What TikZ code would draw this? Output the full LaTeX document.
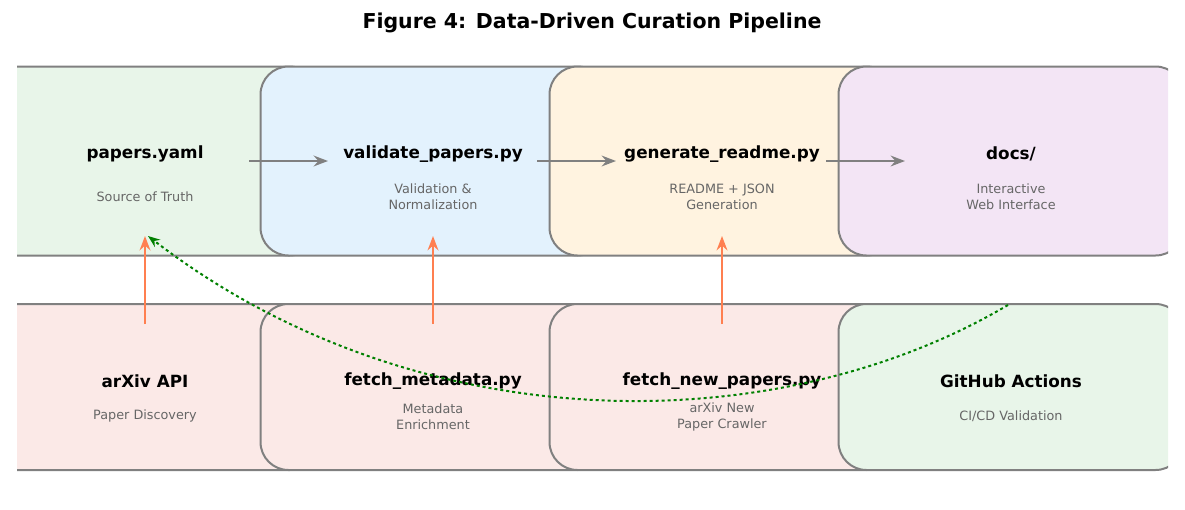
\documentclass[tikz,border=0pt]{standalone}
\usepackage{fontspec}
\setmainfont{DejaVu Sans}
\usetikzlibrary{arrows.meta}
\definecolor{cgreen}{HTML}{E8F5E9}
\definecolor{cblue}{HTML}{E3F2FD}
\definecolor{corange}{HTML}{FFF3E0}
\definecolor{cpurple}{HTML}{F3E5F5}
\definecolor{cred}{HTML}{FBE9E7}
\definecolor{cstroke}{HTML}{808080}
\definecolor{csub}{HTML}{666666}
\definecolor{ccoral}{HTML}{FF7F50}
\tikzset{>=Stealth}
\tikzstyle{stage}=[rectangle,draw=cstroke,line width=2pt,rounded corners=28pt,minimum width=345pt]
\tikzstyle{title}=[font=\bfseries\fontsize{16.8}{20}\selectfont,inner sep=0pt]
\tikzstyle{sub}=[text=csub,font=\fontsize{12.8}{16}\selectfont,align=center,inner sep=0pt]
\tikzstyle{flow}=[->,draw=cstroke,line width=2.5pt]
\tikzstyle{feed}=[->,draw=ccoral,line width=2.5pt]

\begin{document}
\begin{tikzpicture}[x=1pt,y=-1pt]
\useasboundingbox (0,0) rectangle (1185,509);
\node[font=\bfseries\fontsize{20.5}{24}\selectfont] (fig) at (592,23) {Figure 4: Data-Driven Curation Pipeline};

\begin{scope}
\clip (17,0) rectangle (1168,509);
% top row
\node[stage,fill=cgreen,minimum height=189pt] (papers) at (145,161) {};
\node[stage,fill=cblue,minimum height=189pt] (validate) at (433,161) {};
\node[stage,fill=corange,minimum height=189pt] (generate) at (722,161) {};
\node[stage,fill=cpurple,minimum height=189pt] (docs) at (1011,161) {};
% bottom row
\node[stage,fill=cred,minimum height=166pt] (arxiv) at (145,387) {};
\node[stage,fill=cred,minimum height=166pt] (fetchmeta) at (433,387) {};
\node[stage,fill=cred,minimum height=166pt] (fetchnew) at (722,387) {};
\node[stage,fill=cgreen,minimum height=166pt] (gha) at (1011,387) {};
\end{scope}

\node[title] (t1) at (145,154) {papers.yaml};
\node[sub] (s1) at (145,197) {Source of Truth};
\node[title] (t2) at (433,154) {validate\_papers.py};
\node[sub] (s2) at (433,197) {Validation \&\\Normalization};
\node[title] (t3) at (722,154) {generate\_readme.py};
\node[sub] (s3) at (722,197) {README + JSON\\Generation};
\node[title] (t4) at (1011,154) {docs/};
\node[sub] (s4) at (1011,197) {Interactive\\Web Interface};
\node[title] (t5) at (145,381) {arXiv API};
\node[sub] (s5) at (145,416) {Paper Discovery};
\node[title] (t6) at (433,381) {fetch\_metadata.py};
\node[sub] (s6) at (433,417) {Metadata\\Enrichment};
\node[title] (t7) at (722,381) {fetch\_new\_papers.py};
\node[sub] (s7) at (722,417) {arXiv New\\Paper Crawler};
\node[title] (t8) at (1011,381) {GitHub Actions};
\node[sub] (s8) at (1011,416) {CI/CD Validation};

% connectors
\foreach \a/\b [count=\i] in {249/328,537/616,826/905} {
  \coordinate (fa\i) at (\a,161);
  \coordinate (fb\i) at (\b,161);
  \draw[flow] (fa\i) -- (fb\i);
}
\foreach \x [count=\i] in {145,433,722} {
  \coordinate (ua\i) at (\x,324);
  \coordinate (ub\i) at (\x,236);
  \draw[feed] (ua\i) -- (ub\i);
}
\coordinate (ga) at (1008,305);
\coordinate (gb) at (148,236);
\draw[->,draw=green!50!black,dashed,line width=2pt] (ga) .. controls (780,440) and (420,445) .. (gb);
\end{tikzpicture}
\end{document}
